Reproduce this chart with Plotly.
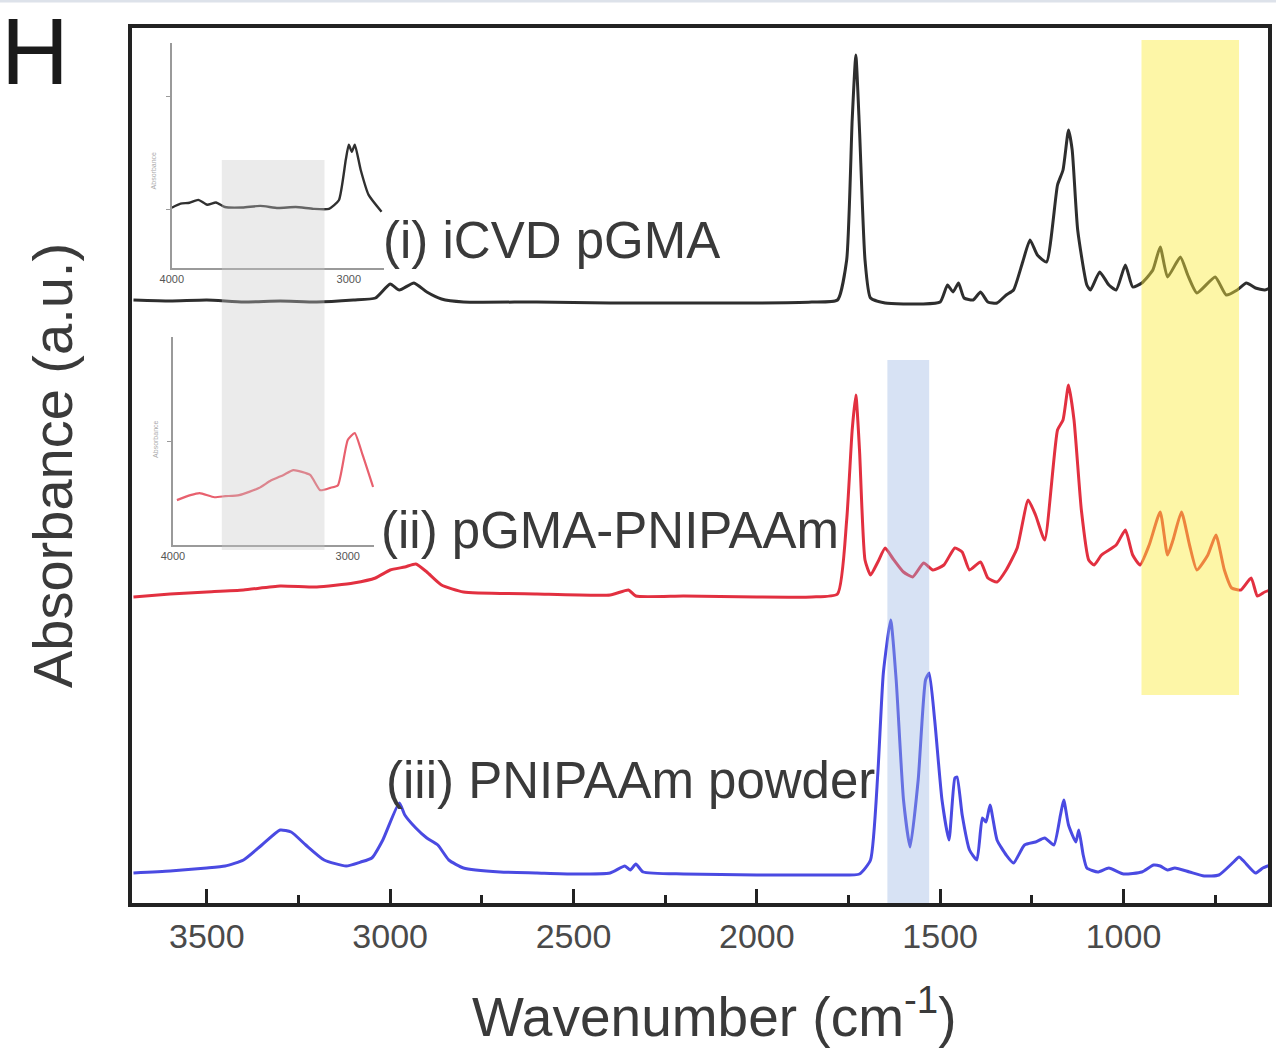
import plotly.graph_objects as go

# ---------------- main spectra (wavenumber cm-1, absorbance a.u. above own baseline) -------------
wn_i = [3700, 3600, 3500, 3400, 3300, 3200, 3100, 3040, 3000, 2975, 2935, 2900, 2860, 2800, 2600, 2400,
        2200, 2000, 1850, 1780, 1755, 1740, 1730, 1720, 1705, 1690, 1650, 1550, 1500, 1480, 1465, 1450,
        1435, 1410, 1390, 1370, 1345, 1320, 1300, 1275, 1255, 1235, 1210, 1180, 1165, 1150, 1140, 1125,
        1100, 1090, 1065, 1040, 1020, 995, 975, 950, 920, 900, 880, 845, 825, 800, 750, 720, 690, 665,
        640, 615, 600]
abs_i = [0.03, 0.02, 0.03, 0.01, 0.02, 0.01, 0.03, 0.05, 0.19, 0.13, 0.20, 0.11, 0.04, 0.01, 0.01, 0.0,
         0.0, 0.0, 0.01, 0.03, 0.43, 1.83, 2.48, 1.73, 0.43, 0.05, 0.0, -0.01, 0.01, 0.18, 0.11, 0.20,
         0.05, 0.03, 0.11, 0.01, 0.0, 0.08, 0.13, 0.41, 0.63, 0.48, 0.41, 1.18, 1.33, 1.73, 1.53, 0.73,
         0.18, 0.13, 0.31, 0.18, 0.13, 0.38, 0.16, 0.20, 0.33, 0.56, 0.26, 0.46, 0.28, 0.10, 0.26, 0.08,
         0.13, 0.20, 0.15, 0.13, 0.15]

wn_ii = [3700, 3600, 3500, 3400, 3300, 3200, 3100, 3040, 3000, 2960, 2930, 2900, 2860, 2800, 2600, 2400,
         2350, 2330, 2200, 2000, 1850, 1780, 1755, 1740, 1730, 1720, 1705, 1690, 1670, 1650, 1630, 1600,
         1575, 1545, 1520, 1490, 1460, 1440, 1420, 1390, 1370, 1345, 1320, 1290, 1260, 1240, 1215, 1180,
         1165, 1150, 1135, 1115, 1095, 1080, 1060, 1020, 995, 975, 955, 930, 900, 880, 865, 842, 820,
         800, 770, 748, 725, 705, 680, 652, 635, 615, 600]
abs_ii = [-0.02, 0.01, 0.03, 0.05, 0.09, 0.08, 0.12, 0.17, 0.25, 0.28, 0.31, 0.23, 0.10, 0.03, 0.01, 0.0,
          0.05, -0.01, -0.01, -0.02, -0.02, 0.01, 0.75, 1.65, 2.00, 1.45, 0.35, 0.20, 0.33, 0.47, 0.37, 0.23,
          0.18, 0.32, 0.25, 0.30, 0.47, 0.43, 0.25, 0.33, 0.17, 0.13, 0.25, 0.47, 0.95, 0.80, 0.55, 1.65,
          1.75, 2.10, 1.75, 0.85, 0.35, 0.30, 0.40, 0.50, 0.65, 0.40, 0.30, 0.50, 0.83, 0.40, 0.55, 0.83, 0.50,
          0.25, 0.40, 0.60, 0.25, 0.07, 0.05, 0.17, -0.01, 0.03, 0.05]

wn_iii = [3700, 3600, 3500, 3450, 3400, 3350, 3300, 3270, 3230, 3180, 3120, 3080, 3050, 3020, 2975, 2960,
          2930, 2900, 2870, 2840, 2800, 2700, 2600, 2500, 2400, 2360, 2345, 2330, 2310, 2200, 2000, 1800,
          1720, 1690, 1670, 1655, 1635, 1620, 1600, 1582, 1560, 1540, 1530, 1515, 1495, 1476, 1460, 1454,
          1440, 1420, 1400, 1385, 1375, 1364, 1345, 1320, 1300, 1270, 1240, 1215, 1190, 1172, 1163, 1150,
          1130, 1122, 1110, 1100, 1070, 1040, 1000, 950, 918, 900, 880, 860, 820, 780, 740, 700, 685, 670,
          640, 620, 600]
abs_iii = [0.0, 0.02, 0.05, 0.07, 0.13, 0.28, 0.43, 0.41, 0.28, 0.13, 0.07, 0.11, 0.15, 0.33, 0.70, 0.58,
           0.45, 0.35, 0.28, 0.13, 0.05, 0.01, 0.0, -0.01, 0.0, 0.07, 0.03, 0.09, 0.01, -0.01, -0.02, -0.02,
           -0.01, 0.13, 1.00, 2.00, 2.53, 1.93, 0.73, 0.26, 0.93, 1.93, 2.00, 1.53, 0.73, 0.33, 0.95, 0.96,
           0.58, 0.23, 0.13, 0.55, 0.51, 0.68, 0.33, 0.18, 0.10, 0.28, 0.31, 0.35, 0.28, 0.58, 0.73, 0.48,
           0.31, 0.43, 0.18, 0.05, 0.01, 0.05, -0.01, 0.01, 0.08, 0.07, 0.03, 0.05, 0.01, -0.03, -0.02, 0.11,
           0.16, 0.11, 0.0, 0.05, 0.08]

offset_i, offset_ii, offset_iii = 6.0, 3.08, 0.30
labels = ["(i) iCVD pGMA", "(ii) pGMA-PNIPAAm", "(iii) PNIPAAm powder"]

# ---------------- inset spectra (high wavenumber region) ----------------
inset_wn_i = [4000, 3950, 3900, 3850, 3800, 3750, 3700, 3600, 3500, 3400, 3300, 3200, 3112, 3056, 3017,
              3000, 2983, 2966, 2933, 2888, 2815]
inset_abs_i = [0.267, 0.285, 0.289, 0.302, 0.28, 0.29, 0.27, 0.268, 0.275, 0.266, 0.27, 0.262, 0.262, 0.30,
               0.48, 0.547, 0.516, 0.547, 0.436, 0.324, 0.249]
inset_wn_ii = [3977, 3900, 3847, 3763, 3700, 3621, 3508, 3440, 3367, 3311, 3215, 3158, 3100, 3056, 3000,
               2960, 2915, 2855]
inset_abs_ii = [0.216, 0.24, 0.25, 0.23, 0.235, 0.24, 0.274, 0.31, 0.337, 0.36, 0.337, 0.264, 0.275, 0.288,
                0.505, 0.538, 0.433, 0.279]

# ---------------- highlighted bands ----------------
band_gray = (3459, 3179)
band_blue = (1644, 1530)
band_yellow = (951, 685)

fig = go.Figure()

line_col = ["#2e2e2e", "#e23040", "#4a4ae2"]
for wn, ab, off, col in [(wn_i, abs_i, offset_i, line_col[0]),
                         (wn_ii, abs_ii, offset_ii, line_col[1]),
                         (wn_iii, abs_iii, offset_iii, line_col[2])]:
    fig.add_trace(go.Scatter(x=wn, y=[a + off for a in ab], mode="lines",
                             line=dict(color=col, width=3, shape="spline", smoothing=0.5),
                             showlegend=False, hoverinfo="skip"))

fig.add_trace(go.Scatter(x=inset_wn_i, y=inset_abs_i, xaxis="x2", yaxis="y2", mode="lines",
                         line=dict(color="#303030", width=2.4, shape="spline", smoothing=0.5),
                         showlegend=False, hoverinfo="skip"))
fig.add_trace(go.Scatter(x=inset_wn_ii, y=inset_abs_ii, xaxis="x3", yaxis="y3", mode="lines",
                         line=dict(color="#e8606e", width=2.2, shape="spline", smoothing=0.5),
                         showlegend=False, hoverinfo="skip"))

shapes = [
    dict(type="rect", xref="x", yref="y", x0=band_gray[0], x1=band_gray[1], y0=3.53, y1=7.43,
         fillcolor="rgba(200,200,200,0.36)", line=dict(width=0), layer="above"),
    dict(type="rect", xref="x", yref="y", x0=band_blue[0], x1=band_blue[1], y0=0, y1=5.43,
         fillcolor="rgba(150,180,225,0.38)", line=dict(width=0), layer="above"),
    dict(type="rect", xref="x", yref="y", x0=band_yellow[0], x1=band_yellow[1], y0=2.08, y1=8.63,
         fillcolor="rgba(250,235,60,0.45)", line=dict(width=0), layer="above"),
    dict(type="line", xref="paper", yref="paper", x0=-0.2, x1=1.1, y0=1.031, y1=1.031,
         line=dict(color="#dde2ea", width=3)),
]

text_font = dict(size=51, color="#3a3a3a", family="Liberation Sans, Arial")
annotations = [
    dict(x=3024, y=6.63, xref="x", yref="y", text=labels[0], showarrow=False, xanchor="left", font=text_font),
    dict(x=3030, y=3.73, xref="x", yref="y", text=labels[1], showarrow=False, xanchor="left", font=text_font),
    dict(x=3016, y=1.23, xref="x", yref="y", text=labels[2], showarrow=False, xanchor="left", font=text_font),
    dict(x=-0.0855, y=0.973, xref="paper", yref="paper", text="H", showarrow=False,
         xanchor="center", yanchor="middle",
         font=dict(size=94, color="#1a1a1a", family="Liberation Sans, Arial")),
    dict(x=0.513, y=-0.1257, xref="paper", yref="paper", text="Wavenumber (cm<sup>-1</sup>)",
         showarrow=False, xanchor="center", yanchor="middle",
         font=dict(size=55, family="Liberation Sans, Arial", color="#3a3a3a")),
    # inset y-labels (tiny)
    dict(x=0.014, y=0.86, xref="paper", yref="paper", text="Absorbance", showarrow=False, textangle=-90,
         font=dict(size=7, color="#aaaaaa", family="Liberation Sans, Arial")),
    dict(x=0.016, y=0.53, xref="paper", yref="paper", text="Absorbance", showarrow=False, textangle=-90,
         font=dict(size=7, color="#aaaaaa", family="Liberation Sans, Arial")),
]

axis_font = dict(family="Liberation Sans, Arial", color="#4a4a4a")

fig.update_layout(
    width=1276, height=1050,
    margin=dict(l=132, r=4, t=28, b=147),
    paper_bgcolor="white", plot_bgcolor="rgba(0,0,0,0)",
    shapes=shapes, annotations=annotations, showlegend=False,
    xaxis=dict(range=[3704, 606], showgrid=False, zeroline=False,
               showline=True, linecolor="#222222", linewidth=4, mirror=True,
               ticks="inside", ticklen=14, tickwidth=3, tickcolor="#222222",
               tickvals=[3500, 3000, 2500, 2000, 1500, 1000],
               tickfont=dict(size=34, **axis_font),
               minor=dict(ticks="inside", ticklen=8, tickwidth=3, tickcolor="#222222", dtick=250,
                          tick0=0, showgrid=False)),
    yaxis=dict(range=[0, 8.75], showgrid=False, zeroline=False, showticklabels=False, ticks="",
               showline=True, linecolor="#222222", linewidth=4, mirror=True,
               title=dict(text="Absorbance (a.u.)", standoff=38,
                          font=dict(size=56, family="Liberation Sans, Arial", color="#3a3a3a"))),
    xaxis2=dict(domain=[0.035, 0.222], anchor="y2", range=[4000, 2800], showgrid=False, zeroline=False,
                showline=True, linecolor="#9a9a9a", linewidth=1.5, ticks="",
                tickvals=[4000, 3000], tickfont=dict(size=11, color="#555555", family="Liberation Sans, Arial")),
    yaxis2=dict(domain=[0.726, 0.983], anchor="x2", range=[0, 1], showgrid=False, zeroline=False,
                showline=True, linecolor="#9a9a9a", linewidth=1.5, ticks="outside", ticklen=4,
                tickcolor="#9a9a9a", tickvals=[0.26, 0.76], showticklabels=False),
    xaxis3=dict(domain=[0.036, 0.213], anchor="y3", range=[4000, 2850], showgrid=False, zeroline=False,
                showline=True, linecolor="#9a9a9a", linewidth=1.5, ticks="",
                tickvals=[4000, 3000], tickfont=dict(size=11, color="#555555", family="Liberation Sans, Arial")),
    yaxis3=dict(domain=[0.409, 0.647], anchor="x3", range=[0, 1], showgrid=False, zeroline=False,
                showline=True, linecolor="#9a9a9a", linewidth=1.5, ticks="outside", ticklen=4,
                tickcolor="#9a9a9a", tickvals=[0.5], showticklabels=False),
)

fig.write_html("out.html")
